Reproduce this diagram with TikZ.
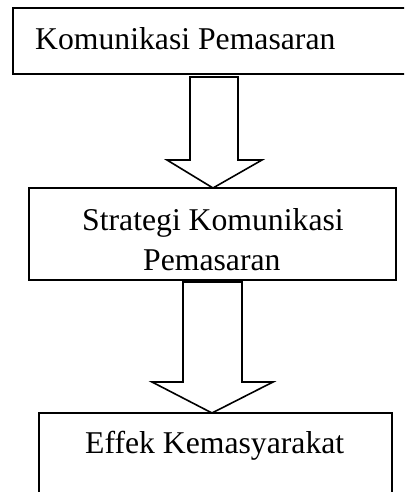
\documentclass[tikz,border=0pt]{standalone}
\usepackage{fontspec}
\setmainfont{Liberation Serif}
\begin{document}
\begin{tikzpicture}[x=1pt,y=-1pt,
  box/.style={draw=black,line width=1.6pt,rectangle,inner sep=0pt,outer sep=0pt},
  lbl/.style={anchor=base west,inner sep=0pt,font=\fontsize{31.7}{38}\selectfont},
  blockarrow/.style={draw=black,line width=1.6pt,fill=white,line join=miter}]
\useasboundingbox (0,0) rectangle (404,492);
\clip (0,0) rectangle (404,492);
% boxes
\node[box,minimum width=407pt,minimum height=66pt] (b1) at (216.5,41) {};
\node[box,minimum width=367pt,minimum height=92pt] (b2) at (212.5,234) {};
\node[box,minimum width=353pt,minimum height=100pt] (b3) at (215.5,463) {};
% texts
\node[lbl] (t1) at (35,50) {Komunikasi Pemasaran};
\node[lbl] (t2) at (82,230) {Strategi Komunikasi};
\node[lbl] (t3) at (143,270) {Pemasaran};
\node[lbl] (t4) at (85,453) {Effek Kemasyarakat};
% block arrows
\coordinate (tip1) at (b2.north -| 213,0);
\coordinate (tip2) at (b3.north -| 212,0);
\draw[blockarrow] (190,77) -- (238,77) -- (238,160) -- (262,160) -- (tip1)
  -- (167,160) -- (190,160) -- cycle;
\draw[blockarrow] (183,282) -- (242,282) -- (242,382) -- (273,382) -- (tip2)
  -- (152,382) -- (183,382) -- cycle;
\end{tikzpicture}
\end{document}
